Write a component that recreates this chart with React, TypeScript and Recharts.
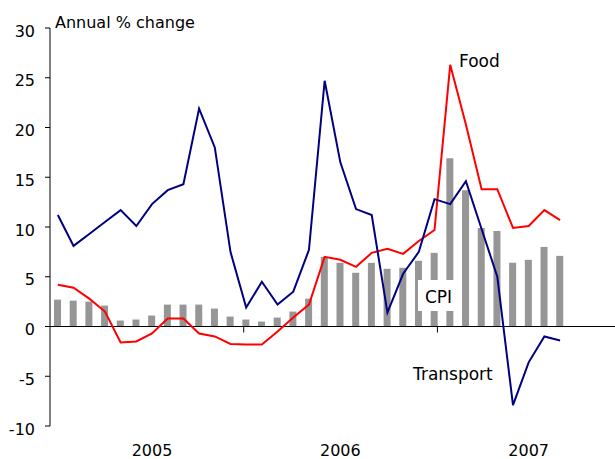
import React from 'react';
import { ComposedChart, Bar, Line, XAxis, YAxis, ReferenceLine } from 'recharts';

const years = ['05', '06', '07'];
const monthNames = ['Jan', 'Feb', 'Mar', 'Apr', 'May', 'Jun', 'Jul', 'Aug', 'Sep', 'Oct', 'Nov', 'Dec'];
const months = years.flatMap(y => monthNames.map(m => `${m}-${y}`));

// annual % change, Jan 2005 .. Sep 2007
const cpi = [
  2.7, 2.6, 2.5, 2.1, 0.6, 0.7, 1.1, 2.2, 2.2, 2.2, 1.8, 1.0,
  0.7, 0.5, 0.9, 1.5, 2.8, 7.0, 6.4, 5.4, 6.4, 5.8, 5.9, 6.6,
  7.4, 16.9, 13.7, 9.9, 9.6, 6.4, 6.7, 8.0, 7.1,
];
const food = [
  4.2, 3.9, 2.8, 1.5, -1.6, -1.5, -0.7, 0.8, 0.8, -0.7, -1.0, -1.75,
  -1.8, -1.8, -0.5, 0.9, 2.2, 7.0, 6.7, 6.0, 7.4, 7.8, 7.3, 8.6,
  9.7, 26.3, 20.3, 13.8, 13.8, 9.9, 10.1, 11.7, 10.7,
];
const transport = [
  11.2, 8.1, 9.3, 10.5, 11.7, 10.1, 12.3, 13.7, 14.3, 21.9, 18.0, 7.5,
  1.9, 4.5, 2.2, 3.5, 7.7, 24.7, 16.5, 11.8, 11.2, 1.4, 5.3, 7.5,
  12.8, 12.3, 14.6, 9.8, 5.0, -7.9, -3.6, -1.0, -1.4,
];

const yTicks = [-10, -5, 0, 5, 10, 15, 20, 25, 30];
const yearTicks = ['Jul-05', 'Jul-06', 'Jul-07'];
const yearBoundaries = [12, 24];

const data = months.map((m, i) => ({
  m,
  cpi: cpi[i] ?? null,
  food: food[i] ?? null,
  transport: transport[i] ?? null,
}));

const font = '"DejaVu Sans", Verdana, sans-serif';

export default function App() {
  return (
    <div style={{ position: 'absolute', left: 0, top: 0, width: 615, height: 459, background: '#fff' }}>
      <ComposedChart
        width={615}
        height={459}
        data={data}
        margin={{ top: 28, right: 0, bottom: 0, left: 0 }}
        style={{ fontFamily: font }}
      >
        <XAxis
          dataKey="m"
          type="category"
          ticks={yearTicks}
          interval={0}
          tickFormatter={(v: string) => '20' + v.slice(4)}
          tickLine={false}
          axisLine={false}
          tickSize={0}
          tickMargin={19}
          height={33}
          tick={{ fontSize: 16, fill: '#000' }}
        />
        <XAxis xAxisId="n" type="number" domain={[0, 36]} hide />
        <YAxis
          domain={[-10, 30]}
          ticks={yTicks}
          interval={0}
          width={50}
          tickSize={5}
          tickMargin={10}
          axisLine={{ stroke: '#000' }}
          tickLine={{ stroke: '#000' }}
          tick={{ fontSize: 16, fill: '#000', dy: 3 }}
        />
        <Bar dataKey="cpi" fill="#969696" barSize={7} isAnimationActive={false} />
        <ReferenceLine y={0} stroke="#000" />
        {yearBoundaries.map(b => (
          <ReferenceLine
            key={b}
            xAxisId="n"
            segment={[{ x: b, y: 0 }, { x: b, y: -0.6 }]}
            stroke="#000"
          />
        ))}
        <Line type="linear" dataKey="food" stroke="#ff0000" strokeWidth={2} dot={false} isAnimationActive={false} />
        <Line type="linear" dataKey="transport" stroke="#000080" strokeWidth={2} dot={false} isAnimationActive={false} />
      </ComposedChart>
      <svg width={615} height={459} style={{ position: 'absolute', left: 0, top: 0, pointerEvents: 'none', fontFamily: font }}>
        <text x={55} y={28} fontSize={16} fill="#000">Annual % change</text>
        <text x={459} y={66.5} fontSize={17} fill="#000">Food</text>
        <rect x={418} y={280} width={40} height={31} fill="#fff" />
        <text x={425} y={303} fontSize={17} fill="#000">CPI</text>
        <text x={413} y={380} fontSize={17} fill="#000">Transport</text>
      </svg>
    </div>
  );
}
